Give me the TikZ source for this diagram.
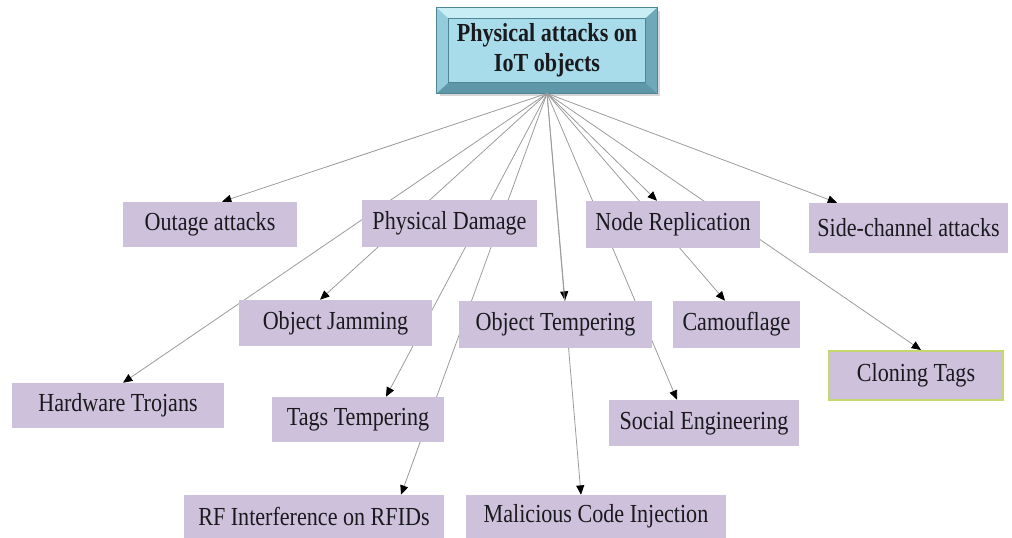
\documentclass[tikz,border=0pt]{standalone}
\usepackage{fontspec}
\setmainfont{Liberation Serif}[FakeStretch=0.85]
\usetikzlibrary{arrows.meta,calc}
\definecolor{lav}{RGB}{205,193,220}
\definecolor{txt}{RGB}{26,26,30}
\definecolor{edgegray}{RGB}{155,155,155}
\definecolor{face}{RGB}{168,220,234}
\definecolor{bevtop}{RGB}{200,237,245}
\definecolor{bevleft}{RGB}{147,204,219}
\definecolor{bevright}{RGB}{111,168,184}
\definecolor{bevbot}{RGB}{94,151,167}
\definecolor{bevline}{RGB}{79,133,148}
\definecolor{greenrim}{RGB}{197,216,109}
\pgfdeclarelayer{bg}
\pgfsetlayers{bg,main}
\tikzset{
  leaf/.style={fill=lav, inner sep=0pt, text=txt,
    font=\fontsize{19.5}{22}\selectfont},
  rootlabel/.style={inner sep=0pt, align=center, text=txt,
    font=\bfseries\fontsize{19.5}{22.5}\selectfont},
  link/.style={draw=edgegray, line width=0.6pt,
    -{Triangle[length=7pt,width=6pt,color=black]}},
}
\begin{document}
\begin{tikzpicture}[x=0.75pt,y=-0.75pt]
\useasboundingbox (0,0) rectangle (1012,538);

% title box
\node[rootlabel, minimum width=165pt, minimum height=64pt] (root) at (547,50.5)
  {Physical attacks on\\IoT objects};

% first row
\node[leaf, minimum width=130.5pt, minimum height=33.75pt] (out) at (210,224.5) {Outage attacks};
\node[leaf, minimum width=131.25pt, minimum height=35.25pt] (pd) at (449.5,223.5) {Physical Damage};
\node[leaf, minimum width=130.5pt, minimum height=35.25pt] (nr) at (673,224.5) {Node Replication};
\node[leaf, minimum width=149.25pt, minimum height=37.5pt] (sc) at (908.5,228) {Side-channel attacks};

% second row
\node[leaf, minimum width=144.75pt, minimum height=34.5pt] (oj) at (335.5,323) {Object Jamming};
\node[leaf, minimum width=144.75pt, minimum height=35.25pt] (ot) at (555.5,324.5) {Object Tempering};
\node[leaf, minimum width=95.25pt, minimum height=35.25pt] (cam) at (736.5,324.5) {Camouflage};
\node[leaf, minimum width=130.5pt, minimum height=36.75pt, draw=greenrim, line width=1.5pt] (ct) at (916,375.5) {Cloning Tags};

% third row
\node[leaf, minimum width=159pt, minimum height=33.75pt] (ht) at (118,405.5) {Hardware Trojans};
\node[leaf, minimum width=129pt, minimum height=33.75pt] (tt) at (358,419.5) {Tags Tempering};
\node[leaf, minimum width=142.5pt, minimum height=34.5pt] (se) at (704,423) {Social Engineering};

% bottom row
\node[leaf, minimum width=195pt, minimum height=32.25pt] (rf) at (314,516.5) {RF Interference on RFIDs};
\node[leaf, minimum width=195pt, minimum height=32.25pt] (mci) at (596,516.5) {Malicious Code Injection};

\begin{pgfonlayer}{bg}
  % bevelled frame of the title box
  \fill[black!45, opacity=0.35] ($(root.north west)+(3,3)$) rectangle ($(root.south east)+(3,3)$);
  \fill[bevleft] (root.north west) rectangle (root.south east);
  \fill[bevtop] (root.north west) -- (root.north east) -- ($(root.north east)+(-12,11)$) -- ($(root.north west)+(12,11)$) -- cycle;
  \fill[bevbot] (root.south west) -- (root.south east) -- ($(root.south east)+(-12,-11)$) -- ($(root.south west)+(12,-11)$) -- cycle;
  \fill[bevright] (root.north east) -- (root.south east) -- ($(root.south east)+(-12,-11)$) -- ($(root.north east)+(-12,11)$) -- cycle;
  \fill[face] ($(root.north west)+(12,11)$) rectangle ($(root.south east)+(-12,-11)$);
  \draw[bevline, line width=0.5pt] ($(root.north west)+(12,11)$) rectangle ($(root.south east)+(-12,-11)$);
  \draw[bevline, line width=0.5pt] (root.north west) rectangle (root.south east);

  % connectors, all fanning out from the bottom of the title box
  \draw[link] (root.south) -- ([xshift=9pt]out.north);
  \draw[link] (root.south) -- ([xshift=-12pt]nr.north);
  \draw[link] (root.south) -- ([xshift=-53.6pt]sc.north);
  \draw[link] (root.south) -- ([xshift=-11.6pt]oj.north);
  \draw[link] (root.south) -- ([xshift=7.1pt]ot.north);
  \draw[link] (root.south) -- ([xshift=-8.6pt]cam.north);
  \draw[link] (root.south) -- ([xshift=3.75pt]ct.north);
  \draw[link] (root.south) -- ([xshift=3.75pt]ht.north);
  \draw[link] (root.south) -- ([xshift=21pt]tt.north);
  \draw[link] (root.south) -- ([xshift=-20.25pt]se.north);
  \draw[link] (root.south) -- ([xshift=65.25pt]rf.north);
  \draw[link] (root.south) -- ([xshift=-11.25pt]mci.north);
\end{pgfonlayer}
\end{tikzpicture}
\end{document}
